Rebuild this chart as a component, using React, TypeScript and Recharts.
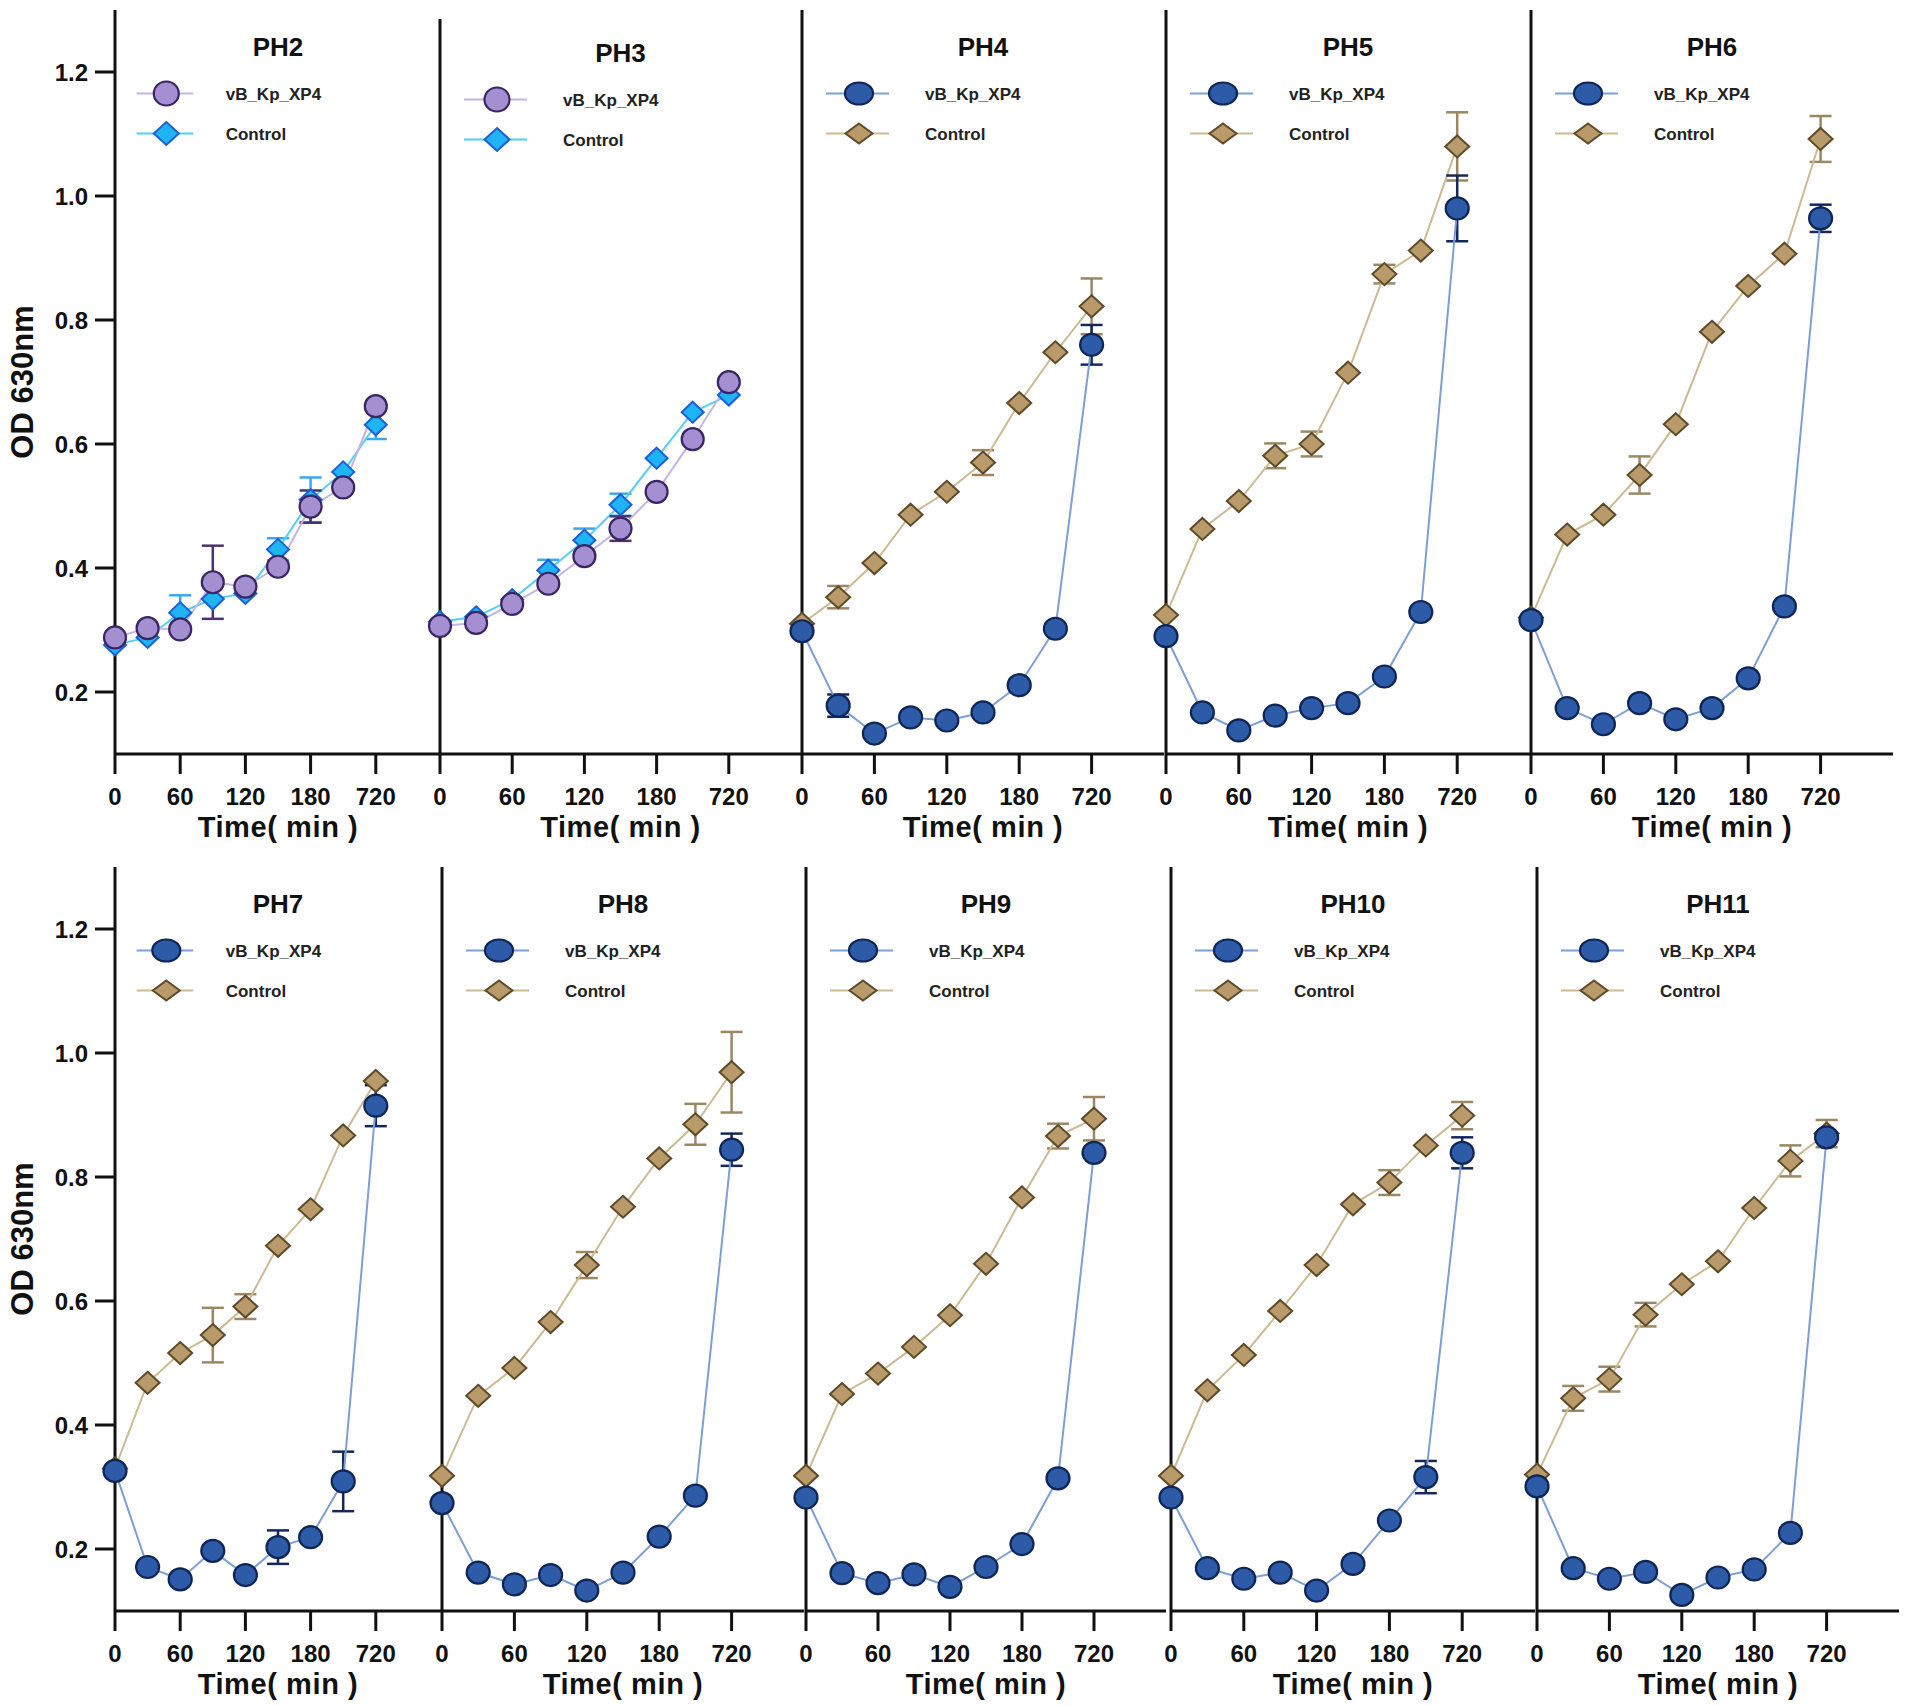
import React from 'react';
import { LineChart, Line, XAxis, YAxis, ErrorBar, Legend } from 'recharts';

// ---------- categories / ticks ----------
const timeIndex = [0, 1, 2, 3, 4, 5, 6, 7, 8];
const xTickIndex = [0, 2, 4, 6, 8];
const xTickLabels = ['0', '60', '120', '180', '720'];
const yTicks = [0.2, 0.4, 0.6, 0.8, 1.0, 1.2];
const seriesNames = ['vB_Kp_XP4', 'Control'];
const panelTitles = ['PH2', 'PH3', 'PH4', 'PH5', 'PH6', 'PH7', 'PH8', 'PH9', 'PH10', 'PH11'];

// ---------- series values (OD 630nm) ----------
const ph2Phage = [0.288, 0.303, 0.301, 0.377, 0.37, 0.402, 0.499, 0.53, 0.661];
const ph2PhageErr = [0, 0, 0, 0.059, 0, 0, 0.026, 0, 0];
const ph2Control = [0.276, 0.288, 0.328, 0.35, 0.359, 0.43, 0.51, 0.555, 0.631];
const ph2ControlErr = [0, 0, 0.028, 0, 0, 0.018, 0.036, 0, 0.023];

const ph3Phage = [0.309, 0.314, 0.345, 0.378, 0.423, 0.468, 0.528, 0.614, 0.707];
const ph3PhageErr = [0, 0, 0, 0, 0, 0.02, 0, 0, 0];
const ph3Control = [0.316, 0.324, 0.352, 0.4, 0.449, 0.507, 0.583, 0.658, 0.686];
const ph3ControlErr = [0, 0, 0, 0.017, 0.019, 0.018, 0, 0, 0];

const ph4Phage = [0.298, 0.178, 0.133, 0.159, 0.154, 0.167, 0.211, 0.302, 0.76];
const ph4PhageErr = [0, 0.018, 0, 0, 0, 0, 0, 0, 0.032];
const ph4Control = [0.31, 0.353, 0.408, 0.486, 0.523, 0.57, 0.666, 0.748, 0.822];
const ph4ControlErr = [0, 0.018, 0, 0, 0, 0.02, 0, 0, 0.045];

const ph5Phage = [0.29, 0.167, 0.138, 0.162, 0.174, 0.182, 0.225, 0.329, 0.98];
const ph5PhageErr = [0, 0, 0, 0, 0, 0, 0, 0, 0.053];
const ph5Control = [0.324, 0.463, 0.508, 0.581, 0.6, 0.715, 0.874, 0.912, 1.08];
const ph5ControlErr = [0, 0, 0, 0.02, 0.02, 0, 0.015, 0, 0.055];

const ph6Phage = [0.316, 0.174, 0.148, 0.182, 0.156, 0.174, 0.222, 0.338, 0.964];
const ph6PhageErr = [0, 0, 0, 0, 0, 0, 0, 0, 0.022];
const ph6Control = [0.32, 0.454, 0.486, 0.55, 0.632, 0.781, 0.855, 0.907, 1.092];
const ph6ControlErr = [0, 0, 0, 0.03, 0, 0, 0, 0, 0.037];

const ph7Phage = [0.326, 0.171, 0.151, 0.197, 0.158, 0.203, 0.219, 0.309, 0.915];
const ph7PhageErr = [0, 0, 0, 0, 0, 0.027, 0, 0.048, 0.033];
const ph7Control = [0.33, 0.468, 0.516, 0.545, 0.591, 0.689, 0.748, 0.867, 0.955];
const ph7ControlErr = [0, 0, 0, 0.044, 0.02, 0, 0, 0, 0];

const ph8Phage = [0.274, 0.162, 0.143, 0.158, 0.133, 0.162, 0.22, 0.286, 0.844];
const ph8PhageErr = [0, 0, 0, 0, 0, 0, 0, 0, 0.026];
const ph8Control = [0.318, 0.447, 0.492, 0.566, 0.658, 0.752, 0.83, 0.885, 0.969];
const ph8ControlErr = [0, 0, 0, 0, 0.021, 0, 0, 0.033, 0.065];

const ph9Phage = [0.283, 0.161, 0.145, 0.159, 0.139, 0.171, 0.208, 0.314, 0.839];
const ph9PhageErr = [0, 0, 0, 0, 0, 0, 0, 0, 0];
const ph9Control = [0.318, 0.45, 0.483, 0.526, 0.577, 0.66, 0.767, 0.866, 0.894];
const ph9ControlErr = [0, 0, 0, 0, 0, 0, 0, 0.02, 0.035];

const ph10Phage = [0.283, 0.169, 0.152, 0.162, 0.133, 0.176, 0.246, 0.316, 0.839];
const ph10PhageErr = [0, 0, 0, 0, 0, 0, 0, 0.026, 0.025];
const ph10Control = [0.318, 0.456, 0.513, 0.584, 0.658, 0.756, 0.791, 0.851, 0.899];
const ph10ControlErr = [0, 0, 0, 0, 0, 0, 0.02, 0, 0.022];

const ph11Phage = [0.301, 0.169, 0.152, 0.163, 0.126, 0.154, 0.167, 0.226, 0.864];
const ph11PhageErr = [0, 0, 0, 0, 0, 0, 0, 0, 0];
const ph11Control = [0.32, 0.443, 0.474, 0.578, 0.627, 0.664, 0.75, 0.826, 0.87];
const ph11ControlErr = [0, 0.02, 0.02, 0.019, 0, 0, 0, 0.025, 0.022];

const panelSeries = [
  [ph2Phage, ph2PhageErr, ph2Control, ph2ControlErr],
  [ph3Phage, ph3PhageErr, ph3Control, ph3ControlErr],
  [ph4Phage, ph4PhageErr, ph4Control, ph4ControlErr],
  [ph5Phage, ph5PhageErr, ph5Control, ph5ControlErr],
  [ph6Phage, ph6PhageErr, ph6Control, ph6ControlErr],
  [ph7Phage, ph7PhageErr, ph7Control, ph7ControlErr],
  [ph8Phage, ph8PhageErr, ph8Control, ph8ControlErr],
  [ph9Phage, ph9PhageErr, ph9Control, ph9ControlErr],
  [ph10Phage, ph10PhageErr, ph10Control, ph10ControlErr],
  [ph11Phage, ph11PhageErr, ph11Control, ph11ControlErr],
];

// ---------- layout & styles ----------
const FONT = "'Liberation Sans', Arial, Helvetica, sans-serif";
const YW = 115; // width reserved for the y axis of every panel
const XH = 95;  // height reserved for the x axis
const PLOT_H = 744;

const geometry = [
  { left: 115, width: 326, top: 10, rowTop: 0, theme: 'purple', showY: true, shift: 0, ls: 0.9 },
  { left: 440, width: 361, top: 19, rowTop: 0, theme: 'purple', showY: false, shift: 6, ls: 1 },
  { left: 802, width: 362, top: 10, rowTop: 0, theme: 'blue', showY: false, shift: 0, ls: 1 },
  { left: 1166, width: 364, top: 10, rowTop: 0, theme: 'blue', showY: false, shift: 0, ls: 1 },
  { left: 1531, width: 362, top: 10, rowTop: 0, theme: 'blue', showY: false, shift: 0, ls: 1 },
  { left: 115, width: 326, top: 10, rowTop: 857, theme: 'blue', showY: true, shift: 0, ls: 0.9 },
  { left: 442, width: 362, top: 10, rowTop: 857, theme: 'blue', showY: false, shift: 0, ls: 1 },
  { left: 806, width: 360, top: 10, rowTop: 857, theme: 'blue', showY: false, shift: 0, ls: 1 },
  { left: 1171, width: 364, top: 10, rowTop: 857, theme: 'blue', showY: false, shift: 0, ls: 1 },
  { left: 1537, width: 362, top: 10, rowTop: 857, theme: 'blue', showY: false, shift: 0, ls: 1 },
];

type MarkStyle = {
  shape: 'circle' | 'diamond';
  fill: string; stroke: string; line: string; err: string;
  rx: number; ry: number; lrx: number; lry: number;
};

const THEMES: Record<string, { phage: MarkStyle; control: MarkStyle }> = {
  purple: {
    phage: { shape: 'circle', fill: '#a48fd1', stroke: '#3a2463', line: '#c5b5e4', err: '#4a3275', rx: 11, ry: 11, lrx: 12.5, lry: 12 },
    control: { shape: 'diamond', fill: '#1fb4f6', stroke: '#1c5fd6', line: '#52cff7', err: '#3ba7ee', rx: 11, ry: 10.5, lrx: 12.5, lry: 11.5 },
  },
  blue: {
    phage: { shape: 'circle', fill: '#2d5ba7', stroke: '#0e2557', line: '#7c9fd6', err: '#14285c', rx: 11.5, ry: 11, lrx: 14, lry: 11 },
    control: { shape: 'diamond', fill: '#b99b6b', stroke: '#5f4a28', line: '#cdba93', err: '#9c8763', rx: 12, ry: 11, lrx: 13.5, lry: 10 },
  },
};

const Mark = ({ st, cx, cy, rx, ry }: { st: MarkStyle; cx: number; cy: number; rx: number; ry: number }) =>
  st.shape === 'circle' ? (
    <ellipse cx={cx} cy={cy} rx={rx} ry={ry} fill={st.fill} stroke={st.stroke} strokeWidth={2.2} />
  ) : (
    <polygon
      points={`${cx},${cy - ry} ${cx + rx},${cy} ${cx},${cy + ry} ${cx - rx},${cy}`}
      fill={st.fill}
      stroke={st.stroke}
      strokeWidth={2}
      strokeLinejoin="miter"
    />
  );

const makeDot = (st: MarkStyle) => (props: any) => {
  const { cx, cy, index } = props;
  if (cx == null || cy == null) return <g key={`e${index}`} />;
  return (
    <g key={`d${index}`}>
      <Mark st={st} cx={cx} cy={cy} rx={st.rx} ry={st.ry} />
    </g>
  );
};

function Panel({ idx }: { idx: number }) {
  const g = geometry[idx];
  const [phage, phageErr, control, controlErr] = panelSeries[idx];
  const th = THEMES[g.theme];
  const data = timeIndex.map((t, i) => ({
    t,
    phage: phage[i],
    phageErr: phageErr[i],
    control: control[i],
    controlErr: controlErr[i],
  }));
  const plotH = PLOT_H - (g.top - 10);
  const chartW = YW + g.width + 6;
  const chartH = g.top + plotH + XH;
  const cxMid = YW + g.width / 2;

  const legendContent = () => {
    const s = g.ls;
    const rows = [
      { st: th.phage, name: seriesNames[0], y: 93.5 + g.shift },
      { st: th.control, name: seriesNames[1], y: 133.5 + g.shift },
    ];
    return (
      <svg width={chartW} height={170} style={{ display: 'block', overflow: 'visible' }}>
        <text
          x={cxMid}
          y={56 + g.shift}
          textAnchor="middle"
          fontFamily={FONT}
          fontWeight={700}
          fontSize={26}
          fill="#111"
        >
          {panelTitles[idx]}
        </text>
        {rows.map((r, i) => (
          <g key={i}>
            <line x1={YW + 24 * s} x2={YW + 87 * s} y1={r.y} y2={r.y} stroke={r.st.line} strokeWidth={2} />
            <Mark st={r.st} cx={YW + 57 * s} cy={r.y} rx={r.st.lrx} ry={r.st.lry} />
            <text
              x={YW + 123 * s}
              y={r.y}
              dy="0.36em"
              fontFamily={FONT}
              fontWeight={700}
              fontSize={17}
              fill="#222"
            >
              {r.name}
            </text>
          </g>
        ))}
      </svg>
    );
  };

  return (
    <div style={{ position: 'absolute', left: g.left - YW, top: g.rowTop }}>
      <LineChart width={chartW} height={chartH} data={data} margin={{ top: g.top, right: 6, bottom: 0, left: 0 }}>
        <XAxis
          type="number"
          dataKey="t"
          domain={[0, 10]}
          ticks={xTickIndex}
          interval={0}
          tickFormatter={(v: number) => xTickLabels[xTickIndex.indexOf(v)] ?? ''}
          height={XH}
          tickSize={20}
          tickMargin={14}
          axisLine={{ stroke: '#111', strokeWidth: 3 }}
          tickLine={{ stroke: '#111', strokeWidth: 3 }}
          tick={{ fill: '#111', fontSize: 24, fontWeight: 700, fontFamily: FONT }}
          label={{
            content: () => (
              <text
                x={cxMid}
                y={g.top + plotH + 83}
                textAnchor="middle"
                fontFamily={FONT}
                fontWeight={700}
                fontSize={29}
                letterSpacing={0.6}
                fill="#111"
              >
                Time( min )
              </text>
            ),
          }}
        />
        <YAxis
          type="number"
          domain={[0.1, 1.3]}
          ticks={yTicks}
          interval={0}
          width={YW}
          tickSize={20}
          tickMargin={7}
          tickFormatter={(v: number) => v.toFixed(1)}
          axisLine={{ stroke: '#111', strokeWidth: 3 }}
          tickLine={{ stroke: '#111', strokeWidth: 3 }}
          tick={g.showY ? { fill: '#111', fontSize: 24, fontWeight: 700, fontFamily: FONT } : false}
          label={
            g.showY
              ? {
                  content: () => (
                    <text
                      transform={`translate(22, ${g.top + plotH / 2}) rotate(-90)`}
                      textAnchor="middle"
                      dy="0.36em"
                      fontFamily={FONT}
                      fontWeight={700}
                      fontSize={31}
                      fill="#111"
                    >
                      OD 630nm
                    </text>
                  ),
                }
              : undefined
          }
        />
        <Legend
          layout="vertical"
          align="center"
          verticalAlign="middle"
          content={legendContent}
          wrapperStyle={{ left: 0, top: 0, width: chartW, height: 170, pointerEvents: 'none' }}
        />
        <Line
          type="linear"
          dataKey="control"
          name={seriesNames[1]}
          stroke={th.control.line}
          strokeWidth={2}
          dot={makeDot(th.control)}
          activeDot={false}
          isAnimationActive={false}
        >
          <ErrorBar dataKey="controlErr" width={11} stroke={th.control.err} strokeWidth={2.5} isAnimationActive={false} />
        </Line>
        <Line
          type="linear"
          dataKey="phage"
          name={seriesNames[0]}
          stroke={th.phage.line}
          strokeWidth={2}
          dot={makeDot(th.phage)}
          activeDot={false}
          isAnimationActive={false}
        >
          <ErrorBar dataKey="phageErr" width={11} stroke={th.phage.err} strokeWidth={2.5} isAnimationActive={false} />
        </Line>
      </LineChart>
    </div>
  );
}

export default function App() {
  return (
    <div
      style={{
        position: 'absolute',
        left: 0,
        top: 0,
        width: 1908,
        height: 1706,
        background: '#fff',
        overflow: 'hidden',
      }}
    >
      {panelTitles.map((_, i) => (
        <Panel key={i} idx={i} />
      ))}
    </div>
  );
}
